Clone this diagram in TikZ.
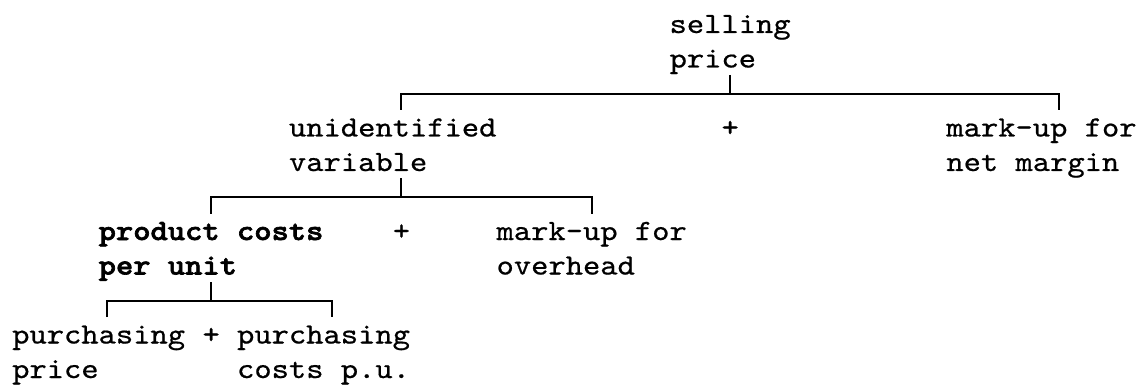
\documentclass[tikz,border=0pt]{standalone}
\usepackage{fontspec}
\setmonofont{lmmono10-regular.otf}[BoldFont=lmmonolt10-bold.otf, FakeStretch=1.12, UprightFeatures={FakeBold=0.6}, BoldFeatures={FakeBold=2.2}]
\newcommand\cx[1]{12+(#1+0.5)*17.3}
\newcommand\cl[1]{12+(#1)*17.3}
\newcommand\rb[1]{-(33+(#1)*34.5)}
\tikzset{
  lbl/.style={inner sep=0pt, anchor=base west, align=left,
    font=\ttfamily\fontsize{29.4}{34.5}\selectfont},
  conn/.style={line width=2pt, line cap=butt}
}
\begin{document}
\begin{tikzpicture}[x=1pt,y=1pt]
\useasboundingbox (0,0) rectangle (1144,-385);
% labels (multi-line nodes: base = last line)
\node[lbl] (sp)  at ({\cl{38}},{\rb{1}}) {selling\\price};
\node[lbl] (uv)  at ({\cl{16}},{\rb{4}}) {unidentified\\variable};
\node[lbl] (pa)  at ({\cl{41}},{\rb{3}}) {+};
\node[lbl] (nm)  at ({\cl{54}},{\rb{4}}) {mark-up for\\net margin};
\node[lbl,font=\ttfamily\bfseries\fontsize{29.4}{34.5}\selectfont] (pc) at ({\cl{5}},{\rb{7}}) {product costs\\per unit};
\node[lbl] (pb)  at ({\cl{22}},{\rb{6}}) {+};
\node[lbl] (oh)  at ({\cl{28}},{\rb{7}}) {mark-up for\\overhead};
\node[lbl] (pp)  at ({\cl{0}},{\rb{10}}) {purchasing\\price};
\node[lbl] (pc2) at ({\cl{11}},{\rb{9}}) {+};
\node[lbl] (pcu) at ({\cl{13}},{\rb{10}}) {purchasing\\costs p.u.};
% junction coordinates (rows 2, 5, 8)
\coordinate (t1) at ({\cx{41}},{\rb{2}+27});
\coordinate (j1) at ({\cx{41}},{\rb{2}+8});
\coordinate (l1) at ({\cx{22}},{\rb{2}+8});
\coordinate (r1) at ({\cx{60}},{\rb{2}+8});
\coordinate (lb1) at ({\cx{22}},{\rb{2}-8});
\coordinate (rb1) at ({\cx{60}},{\rb{2}-8});
\coordinate (t2) at ({\cx{22}},{\rb{5}+27});
\coordinate (j2) at ({\cx{22}},{\rb{5}+8});
\coordinate (l2) at ({\cx{11}},{\rb{5}+8});
\coordinate (r2) at ({\cx{33}},{\rb{5}+8});
\coordinate (lb2) at ({\cx{11}},{\rb{5}-8});
\coordinate (rb2) at ({\cx{33}},{\rb{5}-8});
\coordinate (t3) at ({\cx{11}},{\rb{8}+27});
\coordinate (j3) at ({\cx{11}},{\rb{8}+8});
\coordinate (l3) at ({\cx{5}},{\rb{8}+8});
\coordinate (r3) at ({\cx{18}},{\rb{8}+8});
\coordinate (lb3) at ({\cx{5}},{\rb{8}-8});
\coordinate (rb3) at ({\cx{18}},{\rb{8}-8});
% connectors
\draw[conn] (t1) -- (j1);
\draw[conn] (lb1) -- (l1) -- (r1) -- (rb1);
\draw[conn] (t2) -- (j2);
\draw[conn] (lb2) -- (l2) -- (r2) -- (rb2);
\draw[conn] (t3) -- (j3);
\draw[conn] (lb3) -- (l3) -- (r3) -- (rb3);
\end{tikzpicture}
\end{document}
